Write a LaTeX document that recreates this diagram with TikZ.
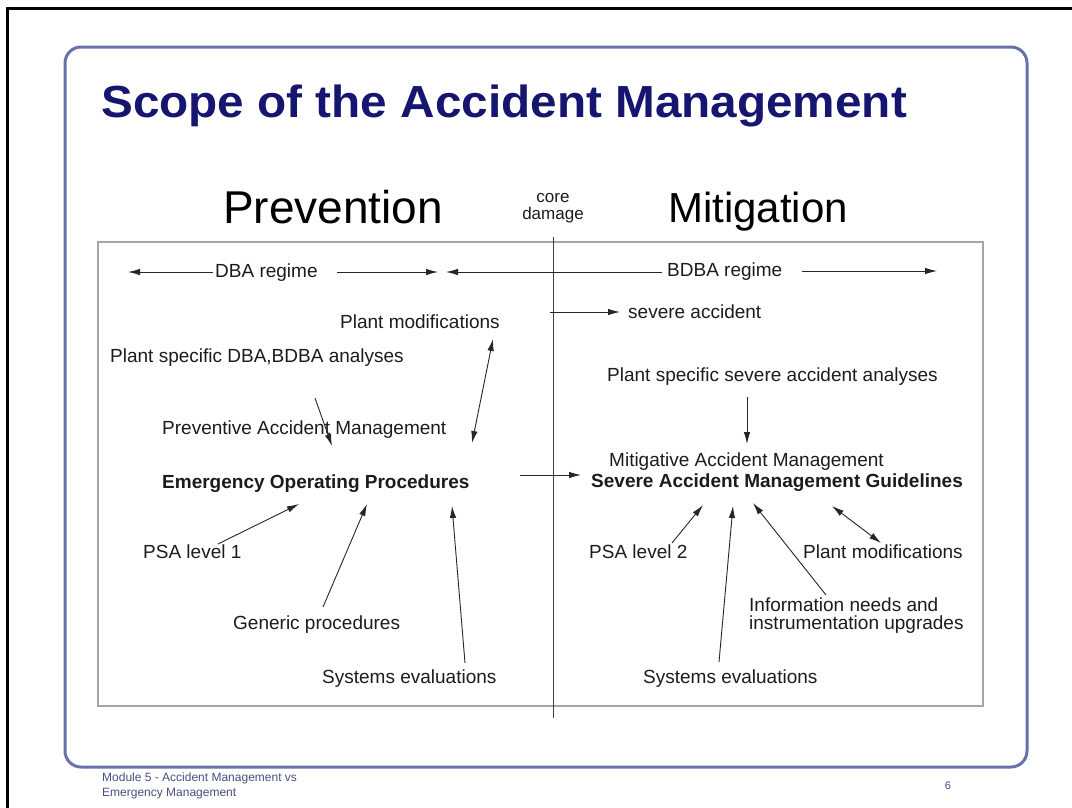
\documentclass[tikz,border=0pt]{standalone}
\usepackage{fontspec}
\setmainfont{Liberation Sans}
\usetikzlibrary{arrows.meta}
\definecolor{txt}{RGB}{28,28,28}
\definecolor{titleblue}{RGB}{22,22,112}
\definecolor{framecol}{RGB}{104,114,168}
\definecolor{boxgrey}{RGB}{165,165,165}
\definecolor{footcol}{RGB}{70,80,130}
\begin{document}
\begin{tikzpicture}[x=1pt,y=-1pt,
  lbl/.style={font=\fontsize{19}{18}\selectfont, text=txt, inner sep=0pt, anchor=base west},
  blbl/.style={font=\fontsize{19}{21}\bfseries\selectfont, text=txt, inner sep=0pt, anchor=base west},
  big/.style={font=\fontsize{46}{50}\selectfont, text=black, inner sep=0pt, anchor=base west},
  arr/.style={-{Latex[length=12pt,width=6.5pt]}, line width=0.9pt, draw=black!85},
  darr/.style={{Latex[length=12pt,width=6.5pt]}-{Latex[length=12pt,width=6.5pt]}, line width=0.9pt, draw=black!85}]
\useasboundingbox (0,0) rectangle (1072,807);
\fill[white] (0,0) rectangle (1072,807);
% outer black frame
\draw[line width=3pt, black] (7.5,810) -- (7.5,8.5) -- (1075,8.5);
% slide frame
\draw[line width=3pt, framecol, rounded corners=16pt] (65,47) rectangle (1027,767);
% title
\node[font=\fontsize{45}{50}\bfseries\selectfont, text=titleblue, inner sep=0pt, anchor=base west] (title) at (101,117) {\scalebox{1.06}[1]{Scope of the Accident Management}};
% headers
\node[big] (prev) at (223,223) {Prevention};
\node[big, font=\fontsize{42}{48}\selectfont] (miti) at (668,222) {Mitigation};
\node[font=\fontsize{17}{17}\selectfont, text=txt, inner sep=0pt, align=center, anchor=base] (core) at (553,219) {core\\damage};
% inner box and divider
\draw[line width=1.5pt, boxgrey] (98,242) rectangle (983,706);
\coordinate (divT) at (553,237);
\coordinate (divB) at (553,718);
\draw[line width=1pt, black!75] (divT) -- (divB);
% regime row
\node[lbl] (dba) at (215,277) {DBA regime};
\node[lbl] (bdba) at (667,276) {BDBA regime};
\coordinate (dbaL) at (128,272);
\coordinate (dbaLs) at (213,272);
\coordinate (dbaRs) at (337,272);
\coordinate (dbaR) at (438,272);
\coordinate (bdbaL) at (446,272);
\coordinate (bdbaLs) at (662,272);
\coordinate (bdbaRs) at (802,271);
\coordinate (bdbaR) at (937,271);
\draw[arr] (dbaLs) -- (dbaL);
\draw[arr] (dbaRs) -- (dbaR);
\draw[arr] (bdbaLs) -- (bdbaL);
\draw[arr] (bdbaRs) -- (bdbaR);
% severe accident
\node[lbl] (sa) at (628,318) {severe accident};
\coordinate (saS) at (550,312);
\coordinate (saE) at (620,312);
\draw[arr] (saS) -- (saE);
% left side texts
\node[lbl] (pmL) at (340,328) {Plant modifications};
\node[lbl] (psdba) at (110,362) {Plant specific DBA,BDBA analyses};
\node[lbl] (pam) at (162,434) {Preventive Accident Management};
\node[blbl] (eop) at (162,488) {Emergency Operating Procedures};
\node[lbl] (psa1) at (143,558) {PSA level 1};
\node[lbl] (gen) at (233,629) {Generic procedures};
\node[lbl] (sysL) at (322,683) {Systems evaluations};
% left arrows
\coordinate (pmLa) at (493,339);
\coordinate (pmLb) at (472,443);
\draw[darr] (pmLa) -- (pmLb);
\coordinate (pamA) at (315,398);
\coordinate (pamB) at (332,446);
\draw[arr] (pamA) -- (pamB);
\coordinate (psa1A) at (218,544);
\coordinate (psa1B) at (299,504);
\draw[arr] (psa1A) -- (psa1B);
\coordinate (genA) at (323,607);
\coordinate (genB) at (367,504);
\draw[arr] (genA) -- (genB);
\coordinate (sysLA) at (465,663);
\coordinate (sysLB) at (452,506);
\draw[arr] (sysLA) -- (sysLB);
% EOP -> SAMG
\coordinate (midA) at (520,475);
\coordinate (midB) at (581,475);
\draw[arr] (midA) -- (midB);
% right side texts
\node[lbl] (pssa) at (607,381) {Plant specific severe accident analyses};
\node[lbl] (mam) at (609,466) {Mitigative Accident Management};
\node[blbl] (samg) at (591,487) {Severe Accident Management Guidelines};
\node[lbl] (psa2) at (589,558) {PSA level 2};
\node[lbl] (pmR) at (803,558) {Plant modifications};
\node[lbl, align=left] (info) at (749,629) {Information needs and\\instrumentation upgrades};
\node[lbl] (sysR) at (643,683) {Systems evaluations};
% right arrows
\coordinate (pssaA) at (747,397);
\coordinate (pssaB) at (747,444);
\draw[arr] (pssaA) -- (pssaB);
\coordinate (psa2A) at (672,543);
\coordinate (psa2B) at (703,505);
\draw[arr] (psa2A) -- (psa2B);
\coordinate (sysRA) at (719,662);
\coordinate (sysRB) at (733,506);
\draw[arr] (sysRA) -- (sysRB);
\coordinate (infoA) at (826,595);
\coordinate (infoB) at (753,503);
\draw[arr] (infoA) -- (infoB);
\coordinate (pmRa) at (832,506);
\coordinate (pmRb) at (881,543);
\draw[darr] (pmRa) -- (pmRb);
% footer
\node[font=\fontsize{12}{15}\selectfont, text=footcol, inner sep=0pt, align=left, anchor=base west] (foot) at (102,796) {Module 5 - Accident Management vs\\Emergency Management};
\node[font=\fontsize{11}{13}\selectfont, text=footcol, inner sep=0pt, anchor=base] (pagenum) at (948,789) {6};
\end{tikzpicture}
\end{document}
